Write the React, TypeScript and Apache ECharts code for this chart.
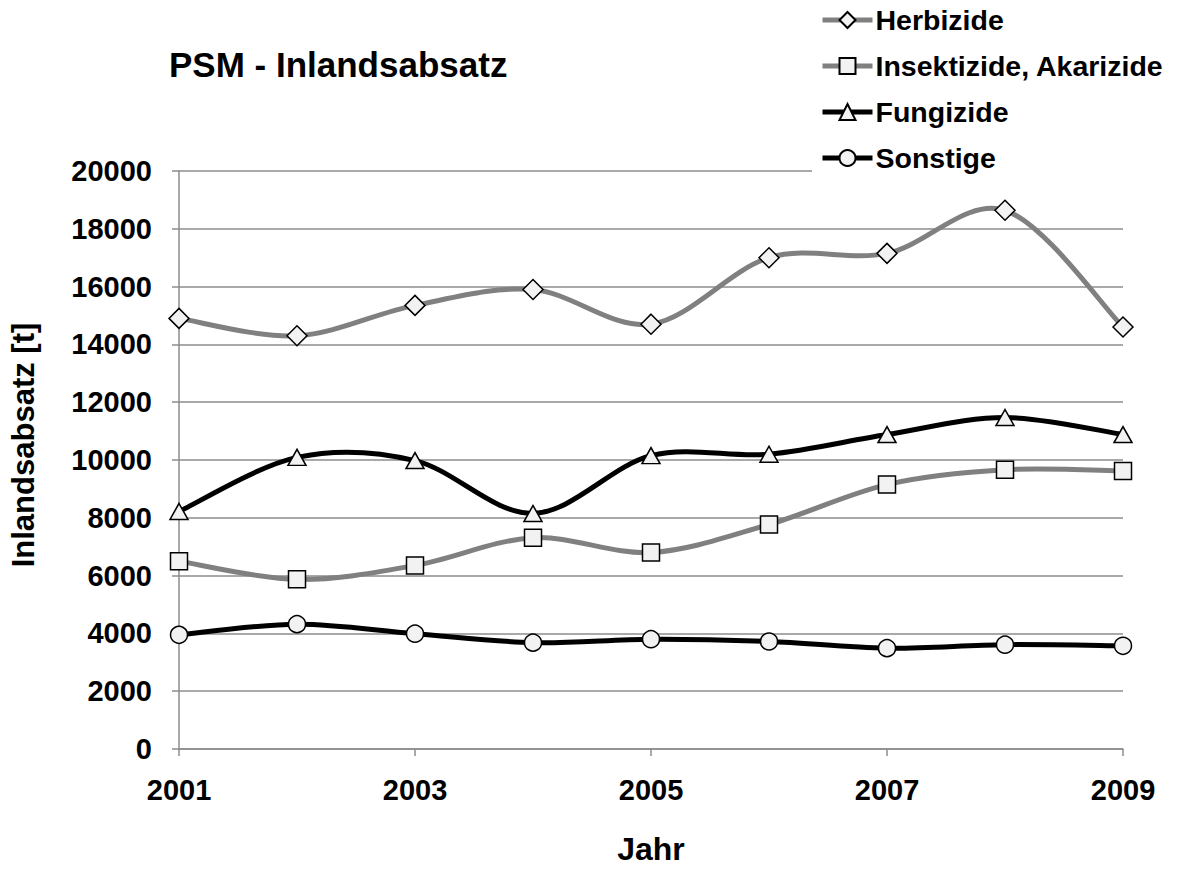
import React, { useEffect, useRef } from "react";
import * as echarts from "echarts";

const years = ["2001", "2002", "2003", "2004", "2005", "2006", "2007", "2008", "2009"];
const herbizide = [14900, 14300, 15350, 15900, 14700, 17000, 17150, 18640, 14600];
const insektizide = [6500, 5870, 6350, 7310, 6800, 7770, 9150, 9660, 9620];
const fungizide = [8220, 10090, 9980, 8150, 10150, 10200, 10880, 11470, 10880];
const sonstige = [3950, 4320, 3990, 3680, 3800, 3720, 3490, 3610, 3570];
const yTicks = { min: 0, max: 20000, interval: 2000 };

const FONT = "'Liberation Sans', Arial, sans-serif";

const seriesDefs = [
  { name: "Herbizide", values: herbizide, color: "#808080", symbol: "diamond", size: 20 as any },
  { name: "Insektizide, Akarizide", values: insektizide, color: "#808080", symbol: "rect", size: 17 as any },
  { name: "Fungizide", values: fungizide, color: "#000000", symbol: "triangle", size: [18, 16] as any },
  { name: "Sonstige", values: sonstige, color: "#000000", symbol: "circle", size: 17 as any },
];

// Excel-like smoothed curve (Catmull-Rom based Bezier) through the points given by the axis scales
function smoothPath(pts: number[][]) {
  let d = `M${pts[0][0]},${pts[0][1]}`;
  for (let i = 0; i < pts.length - 1; i++) {
    const p0 = pts[i - 1] || pts[i];
    const p1 = pts[i];
    const p2 = pts[i + 1];
    const p3 = pts[i + 2] || pts[i + 1];
    const c1x = p1[0] + (p2[0] - p0[0]) / 6;
    const c1y = p1[1] + (p2[1] - p0[1]) / 6;
    const c2x = p2[0] - (p3[0] - p1[0]) / 6;
    const c2y = p2[1] - (p3[1] - p1[1]) / 6;
    d += ` C${c1x},${c1y} ${c2x},${c2y} ${p2[0]},${p2[1]}`;
  }
  return d;
}

export default function App() {
  const ref = useRef<HTMLDivElement>(null);
  useEffect(() => {
    if (!ref.current) return;
    const chart = echarts.init(ref.current, null, { renderer: "svg" });

    const curveSeries = seriesDefs.map((s, k) => ({
      type: "custom",
      name: s.name + " (Linie)",
      silent: true,
      z: 2 + (k >= 2 ? 1 : 0),
      data: s.values.map((v, i) => [i, v]),
      renderItem: (params: any, api: any) => {
        if (params.dataIndex !== 0) return null;
        const pts = s.values.map((v, i) => api.coord([i, v]));
        return {
          type: "path",
          shape: { pathData: smoothPath(pts) },
          style: { stroke: s.color, lineWidth: 5, fill: "none", lineJoin: "round", lineCap: "round" },
        };
      },
    }));

    const markerSeries = seriesDefs.map((s, k) => ({
      name: s.name,
      type: "line",
      data: s.values,
      symbol: s.symbol,
      symbolSize: s.size,
      showSymbol: true,
      lineStyle: { color: s.color, width: 5, opacity: 0 },
      itemStyle: { color: "#f2f2f2", borderColor: "#000", borderWidth: 1.5 },
      z: 5 + k,
    }));

    chart.setOption({
      animation: false,
      backgroundColor: "#fff",
      textStyle: { fontFamily: FONT },
      title: {
        text: "PSM - Inlandsabsatz",
        left: 164,
        top: 42,
        textStyle: { fontFamily: FONT, fontWeight: "bold", fontSize: 35, color: "#000" },
      },
      legend: {
        orient: "vertical",
        left: 812,
        top: 0,
        padding: [5, 10, 10, 8],
        backgroundColor: "#fff",
        itemWidth: 50,
        itemHeight: 20,
        itemGap: 16,
        lineStyle: { width: 5, opacity: 1 },
        textStyle: { fontFamily: FONT, fontWeight: "bold", fontSize: 28.5, color: "#000", lineHeight: 30, padding: [0, 0, 0, -2] },
        data: seriesDefs.map((s) => ({ name: s.name })),
      },
      grid: { left: 167, right: 60, top: 171, bottom: 110, containLabel: false },
      xAxis: {
        type: "category",
        data: years,
        boundaryGap: false,
        name: "Jahr",
        nameLocation: "middle",
        nameGap: 84,
        nameTextStyle: { fontFamily: FONT, fontWeight: "bold", fontSize: 32, color: "#000" },
        axisLine: { lineStyle: { color: "#8c8c8c", width: 1.5 } },
        axisTick: { show: true, interval: 1, length: 7, lineStyle: { color: "#8c8c8c", width: 1.5 } },
        axisLabel: { interval: 1, margin: 26, fontFamily: FONT, fontWeight: "bold", fontSize: 29, color: "#000" },
        splitLine: { show: false },
      },
      yAxis: {
        type: "value",
        min: yTicks.min,
        max: yTicks.max,
        interval: yTicks.interval,
        name: "Inlandsabsatz [t]",
        nameLocation: "middle",
        nameGap: 140,
        nameRotate: 90,
        nameTextStyle: { fontFamily: FONT, fontWeight: "bold", fontSize: 31, color: "#000", padding: [0, 0, 0, 30] },
        axisLine: { show: true, lineStyle: { color: "#8c8c8c", width: 1.5 } },
        axisTick: { show: true, length: 7, lineStyle: { color: "#8c8c8c", width: 1.5 } },
        axisLabel: {
          margin: 27,
          fontFamily: FONT,
          fontWeight: "bold",
          fontSize: 29,
          color: "#000",
          formatter: (v: number) => String(v),
        },
        splitLine: { show: true, lineStyle: { color: "#8c8c8c", width: 1.5 } },
      },
      series: [...curveSeries, ...markerSeries],
    });
    return () => chart.dispose();
  }, []);
  return <div ref={ref} style={{ width: 1183, height: 870, position: "absolute", left: 0, top: 0 }} />;
}
